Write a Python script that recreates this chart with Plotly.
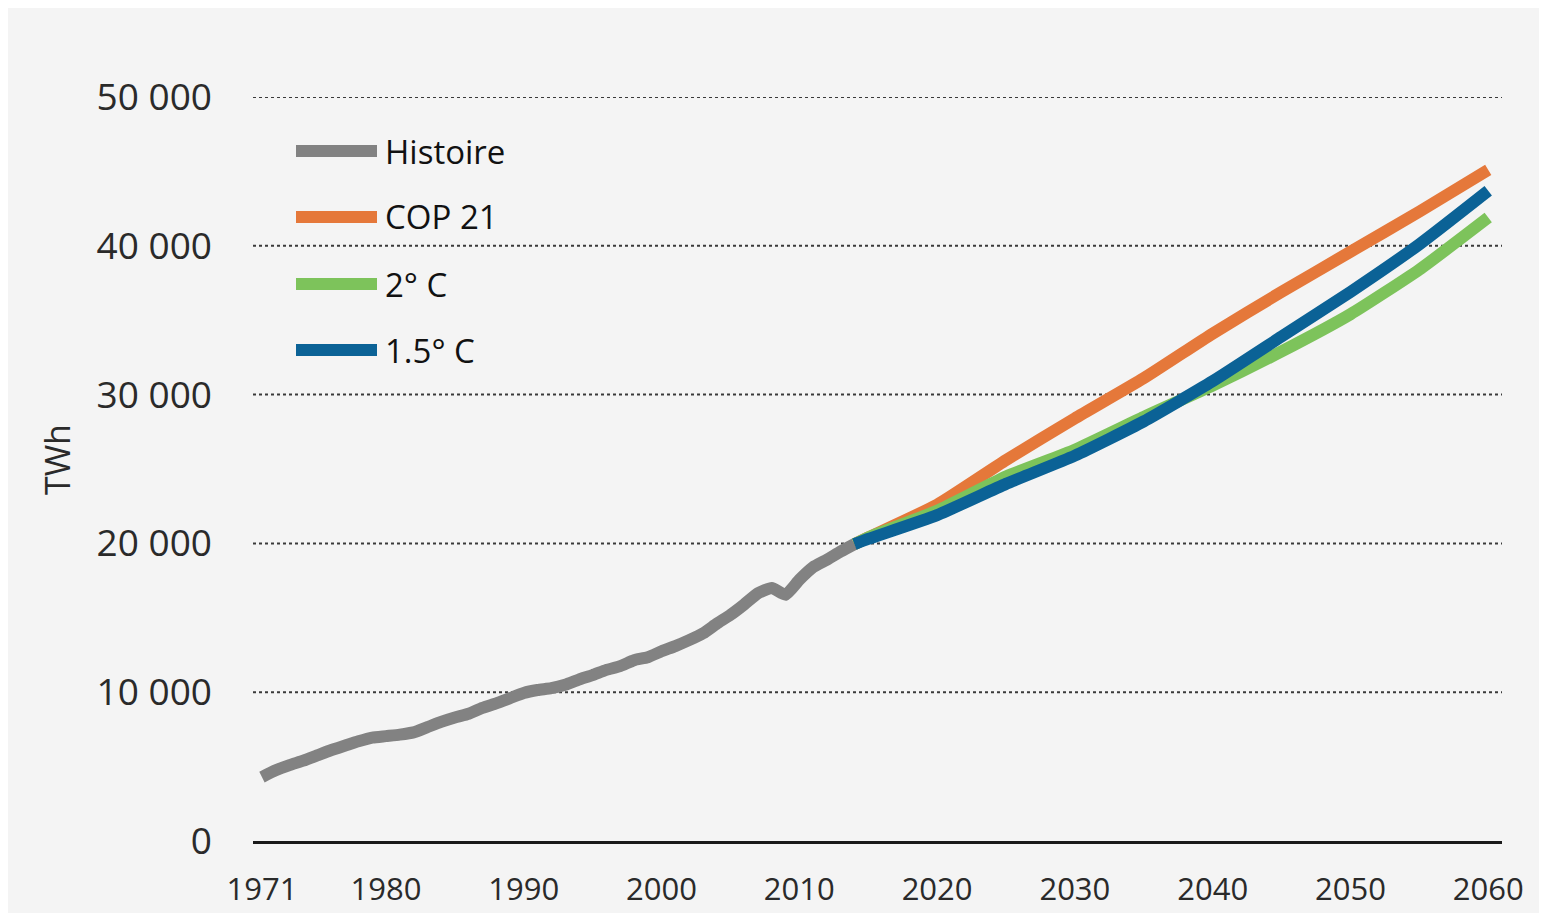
import plotly.graph_objects as go

# ---------------- data ----------------
hist_years = list(range(1971, 2015))
hist_values = [4300, 4750, 5100, 5400, 5750, 6100, 6400, 6700, 6950, 7050,
               7150, 7300, 7650, 8000, 8300, 8550, 8950, 9250, 9600, 9950,
               10150, 10270, 10500, 10850, 11150, 11500, 11750, 12150, 12350, 12750,
               13100, 13500, 13950, 14600, 15200, 15900, 16650, 17000, 16550, 17550,
               18400, 18900, 19450, 19950]

proj_years = [2014, 2015, 2020, 2025, 2030, 2035, 2040, 2045, 2050, 2055, 2060]
cop21_values = [19950, 20400, 22600, 25600, 28400, 31100, 34100, 36900, 39600, 42300, 45100]
deg2_values = [19950, 20400, 22200, 24500, 26300, 28500, 30600, 32900, 35400, 38400, 41900]
deg15_values = [19950, 20300, 21900, 24000, 25900, 28200, 30900, 33900, 36900, 40100, 43700]

series_names = ["Histoire", "COP 21", "2° C", "1.5° C"]
series_colors = ["#828282", "#E5783A", "#7DC35B", "#0B6296"]

x_tickvals = [1971, 1980, 1990, 2000, 2010, 2020, 2030, 2040, 2050, 2060]
y_tickvals = [0, 10000, 20000, 30000, 40000, 50000]
y_ticktext = ["0", "10 000", "20 000", "30 000", "40 000", "50 000"]
y_title = "TWh"

# ---------------- figure ----------------
W, H = 1547, 913
OFF = 8  # page margin offset of the rendered figure
L, R, T, B = 245, 53, 89, 80
FONT = "Open Sans"

fig = go.Figure()
xs = [hist_years, proj_years, proj_years, proj_years]
ys = [hist_values, cop21_values, deg2_values, deg15_values]
for name, color, x, y in zip(series_names, series_colors, xs, ys):
    fig.add_trace(go.Scatter(
        x=x, y=y, mode="lines", name=name,
        line=dict(color=color, width=12, shape="spline", smoothing=0.5),
        showlegend=False, hoverinfo="x+y+name"))

# custom legend (long line swatches like the original)
pw, ph = W - L - R, H - T - B
def px2paper(px, py):
    fx, fy = px - OFF, py - OFF
    return (fx - L) / pw, (H - B - fy) / ph

shapes = []
annotations = []
leg_y = [151, 217, 284, 350]
for name, color, py in zip(series_names, series_colors, leg_y):
    x0, y0 = px2paper(296, py)
    x1, _ = px2paper(377, py)
    shapes.append(dict(type="line", xref="paper", yref="paper", x0=x0, x1=x1, y0=y0, y1=y0,
                       line=dict(color=color, width=12), layer="above"))
    tx, ty = px2paper(383, py)
    annotations.append(dict(xref="paper", yref="paper", x=tx, y=ty, text=name,
                            showarrow=False, xanchor="left", yanchor="middle",
                            font=dict(family=FONT, size=33, color="#111111")))

ax, ay = px2paper(57, 460)
annotations.append(dict(xref="paper", yref="paper", x=ax, y=ay, text=y_title, textangle=-90,
                        showarrow=False, xanchor="center", yanchor="middle",
                        font=dict(family=FONT, size=34, color="#2a2a2a")))

fig.update_layout(
    width=W, height=H,
    margin=dict(l=L, r=R, t=T, b=B, pad=0),
    paper_bgcolor="#f4f4f4", plot_bgcolor="#f4f4f4",
    shapes=shapes, annotations=annotations,
    font=dict(family=FONT, color="#2a2a2a"),
    showlegend=False,
)
fig.update_xaxes(
    range=[1970.35, 2061.0], tickvals=x_tickvals, ticks="", showgrid=False,
    showline=True, linecolor="#1a1a1a", linewidth=3, zeroline=False,
    tickfont=dict(family=FONT, size=31, color="#2a2a2a"), ticklabelstandoff=19,
)
fig.update_yaxes(
    range=[0, 50000], tickvals=y_tickvals, ticktext=y_ticktext, ticks="",
    showgrid=False, zeroline=False, showline=False,
    tickfont=dict(family=FONT, size=37, color="#2a2a2a"), ticklabelstandoff=40,
)
# dotted gridlines at the y tick values (incl. the top one, which plotly skips at range edge)
for v in y_tickvals[1:]:
    fig.add_hline(y=v, line=dict(color="#3a3a3a", width=2, dash="dot"), layer="below")

fig.write_html("out.html")
